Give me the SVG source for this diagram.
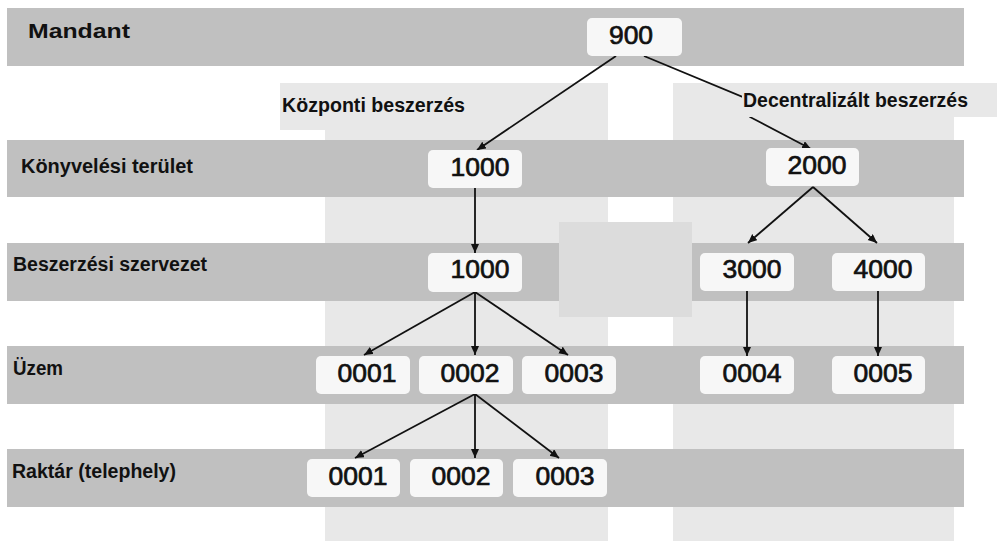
<svg xmlns="http://www.w3.org/2000/svg" width="998" height="541" viewBox="0 0 998 541">
  <style>
    .band { fill: #c0c0c0; }
    .col { fill: #e8e8e8; }
    .node rect { fill: #f7f7f7; }
    .node text { font-family: "Liberation Sans", Arial, sans-serif; font-size: 26.5px; font-weight: normal; fill: #111; stroke: #111; stroke-width: 0.7; text-anchor: middle; }
    .lbl { font-family: "Liberation Sans", Arial, sans-serif; font-size: 20px; font-weight: bold; fill: #111; }
    .conn line, .conn path { stroke: #111; stroke-width: 1.8; fill: none; }
  </style>
  <defs>
    <marker id="ah" markerUnits="userSpaceOnUse" markerWidth="10" markerHeight="10" refX="9" refY="4" orient="auto">
      <path d="M0,0 L9,4 L0,8 z" fill="#111"/>
    </marker>
  </defs>
  <rect width="998" height="541" fill="#ffffff"/>

  <!-- column backgrounds -->
  <g id="columns">
    <rect class="col" x="325" y="83" width="283" height="458"/>
    <rect class="col" x="280" y="83" width="45" height="47"/>
    <rect class="col" x="673" y="83" width="281" height="458"/>
  </g>

  <!-- level bands -->
  <g id="bands">
    <rect class="band" x="7" y="8" width="957" height="58"/>
    <rect class="band" x="7" y="140" width="957" height="57"/>
    <rect class="band" x="7" y="243" width="957" height="58"/>
    <rect class="band" x="7" y="346" width="957" height="58"/>
    <rect class="band" x="7" y="449" width="957" height="58"/>
  </g>

  <rect id="blank-box" x="559" y="222" width="133" height="95" fill="#dcdcdc"/>

  <!-- connectors -->
  <g id="connectors" class="conn">
    <line x1="616" y1="56" x2="477" y2="150" marker-end="url(#ah)"/>
    <path d="M644,56 L745,98 L750,117 L811,149" marker-end="url(#ah)"/>
    <line x1="475" y1="188" x2="475" y2="253" marker-end="url(#ah)"/>
    <line x1="813" y1="187" x2="748" y2="243" marker-end="url(#ah)"/>
    <line x1="813" y1="187" x2="877" y2="243" marker-end="url(#ah)"/>
    <line x1="475" y1="292" x2="364" y2="355" marker-end="url(#ah)"/>
    <line x1="475" y1="292" x2="475" y2="355" marker-end="url(#ah)"/>
    <line x1="475" y1="292" x2="568" y2="355" marker-end="url(#ah)"/>
    <line x1="475" y1="394" x2="355" y2="458" marker-end="url(#ah)"/>
    <line x1="475" y1="394" x2="475" y2="458" marker-end="url(#ah)"/>
    <line x1="475" y1="394" x2="559" y2="458" marker-end="url(#ah)"/>
    <line x1="747" y1="291" x2="747" y2="356" marker-end="url(#ah)"/>
    <line x1="878" y1="291" x2="878" y2="356" marker-end="url(#ah)"/>
  </g>

  <!-- column labels -->
  <g id="label-kozponti">
    <text class="lbl" x="282" y="112" textLength="183" lengthAdjust="spacingAndGlyphs">Központi beszerzés</text>
  </g>
  <g id="label-decentral">
    <rect class="col" x="742" y="83" width="255" height="34"/>
    <text class="lbl" x="743" y="107" textLength="225" lengthAdjust="spacingAndGlyphs">Decentralizált beszerzés</text>
  </g>

  <!-- level labels -->
  <g id="level-labels">
    <text class="lbl" x="28" y="38" font-size="23" textLength="102" lengthAdjust="spacingAndGlyphs">Mandant</text>
    <text class="lbl" x="21" y="173" textLength="172" lengthAdjust="spacingAndGlyphs">Könyvelési terület</text>
    <text class="lbl" x="13" y="271" textLength="194" lengthAdjust="spacingAndGlyphs">Beszerzési szervezet</text>
    <text class="lbl" x="13" y="375" textLength="50" lengthAdjust="spacingAndGlyphs">Üzem</text>
    <text class="lbl" x="12" y="478" textLength="164" lengthAdjust="spacingAndGlyphs">Raktár (telephely)</text>
  </g>

  <!-- nodes -->
  <g id="n900" class="node"><rect x="587" y="18" width="95" height="38" rx="5"/><text x="631" y="44">900</text></g>
  <g id="n1000a" class="node"><rect x="428" y="150" width="94" height="38" rx="5"/><text x="480" y="176">1000</text></g>
  <g id="n2000" class="node"><rect x="766" y="148" width="93" height="38" rx="5"/><text x="817" y="174">2000</text></g>
  <g id="n1000b" class="node"><rect x="428" y="253" width="94" height="39" rx="5"/><text x="480" y="278">1000</text></g>
  <g id="n3000" class="node"><rect x="700" y="253" width="94" height="38" rx="5"/><text x="752" y="278">3000</text></g>
  <g id="n4000" class="node"><rect x="832" y="253" width="93" height="38" rx="5"/><text x="883" y="278">4000</text></g>
  <g id="p0001" class="node"><rect x="316" y="356" width="94" height="38" rx="5"/><text x="367" y="382">0001</text></g>
  <g id="p0002" class="node"><rect x="419" y="356" width="94" height="38" rx="5"/><text x="470" y="382">0002</text></g>
  <g id="p0003" class="node"><rect x="522" y="356" width="94" height="38" rx="5"/><text x="574" y="382">0003</text></g>
  <g id="p0004" class="node"><rect x="700" y="356" width="94" height="38" rx="5"/><text x="752" y="382">0004</text></g>
  <g id="p0005" class="node"><rect x="832" y="356" width="93" height="38" rx="5"/><text x="883" y="382">0005</text></g>
  <g id="s0001" class="node"><rect x="307" y="459" width="93" height="38" rx="5"/><text x="358" y="485">0001</text></g>
  <g id="s0002" class="node"><rect x="410" y="459" width="93" height="38" rx="5"/><text x="461" y="485">0002</text></g>
  <g id="s0003" class="node"><rect x="513" y="459" width="94" height="38" rx="5"/><text x="565" y="485">0003</text></g>
</svg>
